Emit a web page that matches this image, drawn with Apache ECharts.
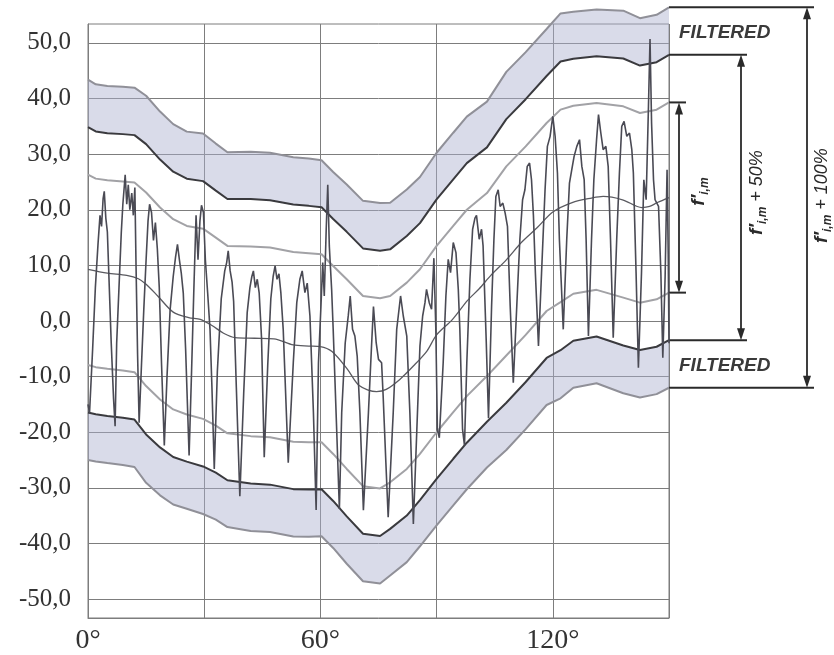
<!DOCTYPE html>
<html>
<head>
<meta charset="utf-8">
<script src="https://cdn.jsdelivr.net/npm/echarts@6/dist/echarts.min.js"></script>
<style>
  html, body { margin: 0; padding: 0; background: #ffffff; }
  #chart { width: 834px; height: 655px; }
</style>
</head>
<body>
<div id="chart"></div>
<script>
// Axis ticks
const angleTicks = [0, 60, 120];
const levelTicks = [-50, -40, -30, -20, -10, 0, 10, 20, 30, 40, 50];

// Envelope f'(i,m): upper and lower bounds sampled along the angle axis
const envAngles = [0, 2, 5, 9, 12, 15, 18.6, 22, 25.5, 29.7, 33, 36, 42, 47, 53, 57, 60.3, 63.3, 66.8, 71,
                   75.4, 78, 82.3, 85.7, 90, 94.3, 97.8, 103, 108, 113, 118.4, 122, 125.3, 131.3, 138.2, 142.5, 146.8, 150];
const envUpper  = [26.3, 25.6, 25.3, 25.1, 24.9, 23.1, 20.4, 18.3, 17.1, 16.6, 15.0, 13.5, 13.4, 13.2, 12.4, 12.2, 12.0, 9.9, 7.5, 4.5,
                   4.1, 4.5, 6.9, 9.3, 13.5, 17.1, 20.0, 23.0, 27.8, 31.4, 35.6, 38.0, 38.7, 39.2, 38.6, 37.4, 38.0, 39.3];
const envLower  = [-7.9, -8.3, -8.6, -8.9, -9.2, -11.7, -14.1, -15.9, -16.8, -17.6, -18.8, -20.2, -20.7, -20.9, -21.7, -21.8, -21.8, -23.9, -26.6, -29.7,
                   -30.1, -29.0, -26.6, -23.9, -20.0, -16.4, -13.5, -9.9, -6.2, -2.5, 1.8, 3.4, 4.9, 5.6, 4.2, 3.3, 3.9, 5.1];

// Running mean
const meanAngles = [0, 5, 10, 13, 15, 18, 22, 26, 29, 32, 35, 38, 43, 48, 53, 57, 60, 63, 67, 70,
                    74.5, 77, 80.5, 84, 87.5, 90, 94, 98, 101, 104, 108, 112, 116, 120, 125, 130, 133, 138, 143, 145, 147, 150];
const meanValues = [9.3, 8.6, 8.2, 7.6, 6.6, 4.5, 1.6, 0.6, 0.3, -0.8, -2.2, -3.0, -3.1, -3.2, -4.3, -4.5, -4.6, -5.5, -8.7, -11.6,
                    -12.7, -12.3, -10.5, -8.1, -5.4, -2.5, 0.2, 3.7, 5.8, 8.2, 11.0, 14.2, 16.8, 19.6, 21.3, 22.1, 22.4, 21.8, 20.4, 20.6, 21.3, 22.2];

// Measured signal (angle, value)
const signalAngles = [
  0, 0.4, 1.2, 1.9, 2.6, 3.1, 3.5, 3.9, 4.2, 4.6, 5.0, 5.4, 6.0, 6.6, 7.0,
  7.4, 8.0, 8.6, 9.0, 9.6, 10.0, 10.4, 10.8, 11.3, 11.7, 12.1, 12.4, 12.8, 13.2,
  13.8, 14.4, 15.0, 15.5, 15.9, 16.4, 16.9, 17.4, 17.9, 18.4, 19.0, 19.7,
  20.4, 21.2, 22.0, 22.6, 23.1, 23.6, 24.1, 24.6, 25.2, 26.1,
  26.7, 27.3, 27.9, 28.4, 28.9, 29.3, 29.8, 30.3, 30.9, 31.5, 32.0, 32.6,
  33.4, 34.4, 35.3, 35.8, 36.2, 36.7, 37.2, 37.6, 38.3, 39.2,
  40.2, 41.1, 41.8, 42.3, 42.7, 43.2, 43.7, 44.2, 44.8, 45.5,
  46.4, 47.2, 47.8, 48.3, 48.8, 49.3, 49.8, 50.4, 51.7,
  53.0, 53.9, 54.7, 55.3, 56.0, 56.6, 57.3, 58.2, 58.9,
  59.5, 60.1, 60.6, 61.0, 61.5, 61.9, 62.3, 62.9, 63.3, 64.2, 64.9,
  65.5, 66.4, 67.2, 67.7, 68.3, 68.9, 69.5, 70.2, 71.1,
  72.4, 73.2, 73.7, 74.4, 75.0, 75.8, 76.2, 76.9, 77.5,
  78.8, 79.7, 80.1, 80.7, 81.4, 82.3, 83.1, 84.0,
  84.9, 85.7, 86.4, 87.0, 87.4, 88.1, 88.7, 89.3, 89.8, 90.2, 90.7,
  91.7, 92.4, 93.0, 93.6, 94.3, 95.0, 95.6, 96.0, 96.7, 97.2,
  97.8, 98.6, 99.3, 99.9, 100.3, 101.0, 101.6, 102.0, 102.8, 103.4,
  104.2, 104.8, 105.3, 105.9, 106.4, 107.1, 107.7, 108.3, 109.0, 109.8,
  110.7, 111.5, 112.2, 112.8, 113.4, 114.0, 114.5, 115.0, 115.5, 116.3,
  117.1, 118.0, 118.6, 119.3, 120.0, 120.6, 121.2, 121.7, 122.7,
  123.6, 124.3, 124.9, 125.5, 126.2, 126.9, 127.5, 128.1, 128.6, 129.2,
  130.0, 130.6, 131.3, 131.8, 132.4, 133.0, 133.7, 134.3, 134.9, 135.6,
  136.5, 137.2, 137.8, 138.4, 139.1, 139.8, 140.4, 140.8, 141.5, 142.1,
  142.9, 143.5, 144.1, 144.7, 145.1, 145.5, 146.0, 146.4, 147.3, 147.9, 148.4,
  149.0, 149.5, 149.8, 150
];
const signalValues = [
  -15, -16.5, -5, 6, 14, 19, 17, 22, 23.3, 18.5, 16, 8, -4, -14, -18.9,
  -4, 6, 16, 21, 26.3, 21, 24.5, 20, 23, 19, 24, 10, -6, -18.3,
  -8, 2, 11, 18, 21, 19.5, 14.5, 17.7, 13, 6, -8, -22.4,
  -10, 2, 8, 11.5, 13.8, 11, 8.5, 5, -5, -24.2,
  -10, 5, 19, 11, 18, 20.8, 19.5, 11, 5, -1.5, -12, -26.6,
  -9, 4, 9, 10.5, 12.6, 9, 7, 3.5, -12, -31.5,
  -13, 1.5, 6, 8, 9, 6, 7.5, 5, -3, -24.5,
  -8, 4, 8, 9.9, 7.5, 8.5, 5, -1.5, -25.5,
  -7.5, 3.3, 7.5, 9, 5.1, 6.8, 0.9, -16.5, -34,
  -7.5, 2, 10.5, 4.5, 16.5, 24.5, 13.5, 5.7, -1.5, -19.5, -33.8,
  -16.5, -4, 1, 4.5, -1.5, -2.7, -6.3, -16.5, -34,
  -16.5, -4.5, 2.6, -3.9, -6.9, -7.5, -13.5, -25.4, -35.3,
  -16.5, -1.5, 0.9, 4.5, 0.9, -2.7, -16.5, -36.5,
  -19.5, -4.5, 0.9, 3.3, 5.7, 3.3, 2.1, 11.3, -1.5, -19.5, -21,
  -7.5, 4.5, 11.1, 8.7, 14.1, 12.3, 5.7, -1.5, -19.5, -22.4,
  -7.5, 7.5, 16.5, 18.5, 19, 14.7, 16.5, 13.5, -3.3, -17.5,
  2.7, 14.7, 22.4, 23.6, 20.6, 21.2, 19.4, 17, 2.7, -11.1,
  2.7, 14.7, 21.8, 23.6, 27.8, 28.4, 25.4, 18.9, 8.7, -4.5,
  8.7, 23.6, 31.4, 33.2, 36.8, 33.2, 26.6, 14.7, -1.5,
  14.7, 24.8, 27.2, 29.6, 31.4, 32.6, 27.8, 25.4, 14.7, -2.7,
  14.7, 25.4, 32.6, 37.1, 33.8, 30.8, 31.4, 27.8, 14.7, -3,
  14.7, 26.6, 35, 35.9, 33.2, 33.8, 30.8, 26.6, 8.7, -8.4,
  8.7, 25.4, 21.8, 38.6, 50.7, 35.6, 25.4, 21.8, 20.6, 8.7, -6.6,
  8, 27.2, 12, -4
];

// f'(i,m) widened by 50 % and by 100 % around its centre
const widen = (k, sign) => envAngles.map((a, i) => {
  const c = (envUpper[i] + envLower[i]) / 2;
  const h = (envUpper[i] - envLower[i]) / 2;
  return [a, +(c + sign * k * h).toFixed(2)];
});
const pairs = (xs, ys) => xs.map((x, i) => [x, ys[i]]);

const up50 = widen(1.5, 1), lo50 = widen(1.5, -1);
const up100 = widen(2, 1), lo100 = widen(2, -1);

const serifFont = '"Liberation Serif", "DejaVu Serif", serif';
const sansFont = '"Liberation Sans", Arial, sans-serif';
const gridColor = '#7d7d7d';
const bandFill = 'rgba(172,176,208,0.46)';

const lineBase = { type: 'line', symbol: 'none', silent: true, clip: false, animation: false };

// Filled strip between two boundary curves, projected through the cartesian scales
const bandSeries = (name, outer, inner) => ({
  type: 'custom', name: name, silent: true, clip: false, animation: false,
  data: [0],
  renderItem: (params, api) => ({
    type: 'polygon',
    shape: { points: outer.map(p => api.coord(p)).concat(inner.slice().reverse().map(p => api.coord(p))) },
    style: { fill: bandFill }
  })
});

const chart = echarts.init(document.getElementById('chart'), null, { renderer: 'canvas' });

chart.setOption({
  animation: false,
  backgroundColor: '#ffffff',
  grid: { left: 88, right: 165, top: 24, bottom: 36, show: true, borderColor: gridColor, borderWidth: 1 },
  xAxis: {
    type: 'value', min: 0, max: 150, interval: 30,
    axisLine: { show: true, onZero: false, lineStyle: { color: gridColor, width: 1 } },
    axisTick: { show: false },
    axisLabel: {
      margin: 9, fontFamily: serifFont, fontSize: 28, color: '#333333',
      formatter: v => angleTicks.indexOf(v) >= 0 ? v + '°' : ''
    },
    splitLine: { show: true, lineStyle: { color: gridColor, width: 1 } }
  },
  yAxis: {
    type: 'value', min: -53.4, max: 53.4,
    axisLine: { show: true, onZero: false, lineStyle: { color: gridColor, width: 1 } },
    axisTick: { show: false, customValues: levelTicks },
    axisLabel: {
      customValues: levelTicks, margin: 17, fontFamily: serifFont, fontSize: 25, color: '#333333',
      formatter: v => v.toFixed(1).replace('.', ',')
    },
    splitLine: { show: true, lineStyle: { color: gridColor, width: 1 } }
  },
  series: [
    // filtered bands (between +50 % and +100 %)
    bandSeries('bandUp', up100, up50),
    bandSeries('bandLo', lo100, lo50),
    // +100 % edges
    Object.assign({}, lineBase, { name: 'up100', data: up100, lineStyle: { color: '#909098', width: 2 } }),
    Object.assign({}, lineBase, { name: 'lo100', data: lo100, lineStyle: { color: '#909098', width: 2 } }),
    // +50 % edges
    Object.assign({}, lineBase, { name: 'up50', data: up50, lineStyle: { color: '#3a3a3e', width: 2 } }),
    Object.assign({}, lineBase, { name: 'lo50', data: lo50, lineStyle: { color: '#3a3a3e', width: 2 } }),
    // f'(i,m)
    Object.assign({}, lineBase, { name: 'envUp', data: pairs(envAngles, envUpper), lineStyle: { color: '#a2a2a6', width: 2 } }),
    Object.assign({}, lineBase, { name: 'envLo', data: pairs(envAngles, envLower), lineStyle: { color: '#a2a2a6', width: 2 } }),
    // running mean
    Object.assign({}, lineBase, { name: 'mean', data: pairs(meanAngles, meanValues), smooth: 0.3, lineStyle: { color: '#5a5a60', width: 1.3 } }),
    // signal
    Object.assign({}, lineBase, { name: 'signal', data: pairs(signalAngles, signalValues), lineStyle: { color: '#4a4a54', width: 1.6 } })
  ]
});

// Brackets on the right, anchored to the envelope values at the last angle
const last = envAngles.length - 1;
const endA = envAngles[last];
const px = v => chart.convertToPixel({ gridIndex: 0 }, [endA, v]);
const xEdge = px(0)[0];
const yIn = [px(envUpper[last])[1], px(envLower[last])[1]];
const y50 = [px(up50[last][1])[1], px(lo50[last][1])[1]];
const y100 = [px(up100[last][1])[1], px(lo100[last][1])[1]];

const ink = '#2a2a2a';
const hLine = (x2, y) => ({ type: 'line', shape: { x1: xEdge, y1: y, x2: x2, y2: y }, style: { stroke: ink, lineWidth: 2 }, silent: true });
const arrow = (x, yTop, yBot) => {
  const hl = 12, hw = 4;
  return [
    { type: 'line', shape: { x1: x, y1: yTop + hl - 2, x2: x, y2: yBot - hl + 2 }, style: { stroke: ink, lineWidth: 1.8 }, silent: true },
    { type: 'polygon', shape: { points: [[x, yTop], [x - hw, yTop + hl], [x + hw, yTop + hl]] }, style: { fill: ink }, silent: true },
    { type: 'polygon', shape: { points: [[x, yBot], [x - hw, yBot - hl], [x + hw, yBot - hl]] }, style: { fill: ink }, silent: true }
  ];
};
const richLabel = (x, y, tail) => ({
  type: 'text', x: x, y: y, rotation: Math.PI / 2, silent: true,
  style: {
    text: '{f|f′}{s|i,m}' + (tail ? '{t|' + tail + '}' : ''),
    align: 'center', verticalAlign: 'middle',
    rich: {
      f: { fontFamily: sansFont, fontStyle: 'italic', fontWeight: 'bold', fontSize: 19, fill: ink, lineHeight: 24, verticalAlign: 'middle' },
      s: { fontFamily: sansFont, fontStyle: 'italic', fontWeight: 'bold', fontSize: 12, fill: ink, lineHeight: 24, verticalAlign: 'bottom' },
      t: { fontFamily: sansFont, fontStyle: 'italic', fontSize: 18, fill: ink, lineHeight: 24, verticalAlign: 'middle' }
    }
  }
});
const filteredText = (y) => ({
  type: 'text', x: xEdge + 10, y: y, silent: true,
  style: { text: 'FILTERED', fontFamily: sansFont, fontStyle: 'italic', fontWeight: 'bold', fontSize: 19, fill: '#3a3a3a', align: 'left', verticalAlign: 'middle' }
});

const graphics = [].concat(
  [hLine(xEdge + 17, yIn[0]), hLine(xEdge + 17, yIn[1])],
  [hLine(xEdge + 78, y50[0]), hLine(xEdge + 78, y50[1])],
  [hLine(xEdge + 145, y100[0]), hLine(xEdge + 145, y100[1])],
  arrow(xEdge + 10, yIn[0], yIn[1]),
  arrow(xEdge + 72, y50[0], y50[1]),
  arrow(xEdge + 138, y100[0], y100[1]),
  [
    richLabel(xEdge + 30, (yIn[0] + yIn[1]) / 2 - 6, ''),
    richLabel(xEdge + 88, (yIn[0] + yIn[1]) / 2 - 5, ' + 50%'),
    richLabel(xEdge + 153, (yIn[0] + yIn[1]) / 2 - 2, ' + 100%'),
    filteredText((y100[0] + y50[0]) / 2 + 2),
    filteredText((y100[1] + y50[1]) / 2 + 2)
  ]
);
chart.setOption({ graphic: graphics });
</script>
</body>
</html>
